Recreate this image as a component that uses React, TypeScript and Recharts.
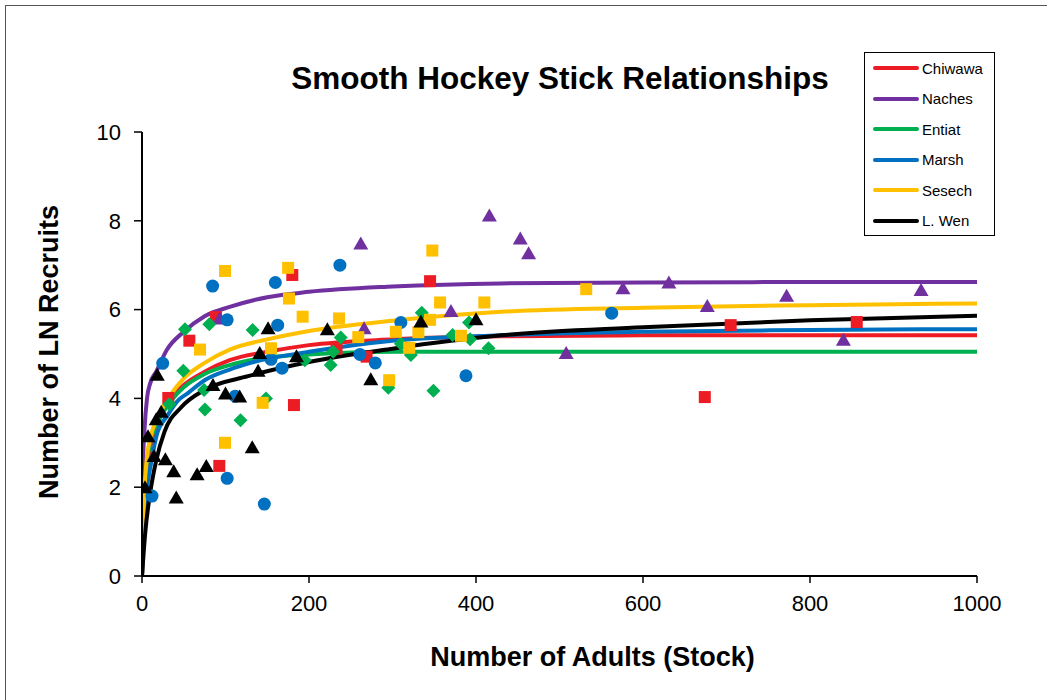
import React from 'react';
import { ComposedChart, Line, Scatter, XAxis, YAxis, Label } from 'recharts';

const FONT = '"Liberation Sans", Arial, Helvetica, sans-serif';

const seriesNames = ['Chiwawa', 'Naches', 'Entiat', 'Marsh', 'Sesech', 'L. Wen'];
const seriesColors = ['#ED1C24', '#7030A0', '#00B050', '#0070C0', '#FFC000', '#000000'];
const seriesShapes = ['square', 'triangle', 'diamond', 'circle', 'square', 'triangle'];

const xTicks = [0, 200, 400, 600, 800, 1000];
const yTicks = [0, 2, 4, 6, 8, 10];

// Fitted curves
const chiwawaCurve = [[0,0],[2,1.4],[5,2.3],[10,2.9],[20,3.5],[35,4.0],[50,4.3],[75,4.6],[105,4.86],[150,5.05],[200,5.2],[300,5.33],[430,5.4],[600,5.42],[800,5.42],[1000,5.42]];
const nachesCurve = [[0,0],[1,2.4],[3,3.3],[6,4.0],[10,4.35],[17,4.6],[30,5.1],[50,5.5],[75,5.85],[105,6.06],[150,6.28],[200,6.4],[300,6.52],[430,6.59],[600,6.61],[800,6.62],[1000,6.62]];
const entiatCurve = [[0,0],[2,1.5],[5,2.4],[10,3.0],[20,3.5],[35,3.95],[50,4.25],[75,4.55],[105,4.75],[150,4.92],[200,4.99],[300,5.05],[500,5.05],[800,5.05],[1000,5.05]];
const marshCurve = [[0,0],[2,1.0],[5,1.8],[11,2.55],[18,3.2],[30,3.6],[43,3.95],[55,4.12],[75,4.41],[105,4.65],[130,4.8],[200,5.05],[300,5.3],[430,5.42],[600,5.5],[800,5.54],[1000,5.56]];
const sesechCurve = [[0,0],[2,1.5],[5,2.5],[10,3.1],[20,3.6],[35,4.1],[50,4.45],[75,4.8],[105,5.1],[150,5.33],[200,5.52],[300,5.75],[430,5.95],[600,6.04],[800,6.1],[1000,6.14]];
const lwenCurve = [[0,0],[4,1.0],[10,1.9],[17,2.6],[27,3.25],[47,3.8],[75,4.19],[127,4.5],[200,4.82],[300,5.12],[430,5.42],[600,5.6],[800,5.76],[1000,5.86]];

// Observed points
const chiwawaPoints = [[31.5,4.01],[56.7,5.3],[88.6,5.83],[92.6,2.48],[180,6.78],[182,3.85],[233,5.12],[269,4.94],[345,6.64],[674,4.03],[705,5.65],[856,5.72]];
const nachesPoints = [[93,5.8],[262,7.49],[266,5.58],[370,5.97],[416,8.12],[453,7.6],[463,7.27],[508,5.02],[576,6.48],[631,6.61],[677,6.08],[772,6.31],[840,5.32],[933,6.44]];
const entiatPoints = [[32.7,3.87],[49.5,4.62],[51.5,5.56],[74.3,4.19],[75.4,3.75],[80.6,5.67],[118,3.51],[132.5,5.54],[148.5,4.0],[195,4.86],[226,4.75],[229,5.05],[238,5.37],[295,4.24],[310,5.23],[322,4.98],[335,5.93],[349,4.17],[372,5.43],[391.6,5.71],[393,5.33],[415,5.13]];
const marshPoints = [[12,1.8],[24.8,4.79],[84.6,6.53],[102,5.77],[102,2.2],[111.7,4.05],[146.5,1.62],[154.5,4.88],[159.7,6.61],[162.5,5.65],[167.7,4.68],[237,7.0],[261,4.99],[279.4,4.8],[310,5.71],[388,4.51],[562.5,5.92]];
const sesechPoints = [[69.5,5.1],[99.4,6.87],[99.4,3.0],[144.5,3.9],[154.5,5.13],[175,6.94],[176,6.25],[192.4,5.84],[236,5.8],[259,5.38],[296,4.41],[304,5.5],[320,5.14],[331,5.49],[345,5.77],[347.7,7.33],[357,6.16],[382,5.41],[410,6.16],[532,6.46]];
const lwenPoints = [[3.6,2.0],[7.2,3.15],[14.4,2.7],[17,3.53],[18.3,4.53],[23,3.7],[28,2.63],[38,2.36],[41,1.77],[66,2.29],[77,2.48],[85,4.3],[100,4.11],[117,4.04],[132,2.9],[139,4.62],[141,5.02],[151,5.58],[185,4.95],[222,5.56],[274,4.43],[334,5.73],[400,5.78]];

const curves = [chiwawaCurve, nachesCurve, entiatCurve, marshCurve, sesechCurve, lwenCurve];
const points = [chiwawaPoints, nachesPoints, entiatPoints, marshPoints, sesechPoints, lwenPoints];

const toData = (arr: number[][]) => arr.map(([x, y]) => ({ x, y }));

const makeShape = (kind: string, color: string) => (props: any) => {
  const { cx, cy } = props;
  if (cx == null || cy == null) return <g />;
  if (kind === 'square') return <rect x={cx - 6} y={cy - 6} width={12} height={12} fill={color} />;
  if (kind === 'circle') return <circle cx={cx} cy={cy} r={6.5} fill={color} />;
  if (kind === 'triangle')
    return <polygon points={`${cx},${cy - 7} ${cx + 7.5},${cy + 6} ${cx - 7.5},${cy + 6}`} fill={color} />;
  return <polygon points={`${cx},${cy - 7} ${cx + 7},${cy} ${cx},${cy + 7} ${cx - 7},${cy}`} fill={color} />;
};

const tickStyle = { fill: '#000', fontSize: 22, fontFamily: FONT };

export default function App() {
  return (
    <div style={{ position: 'fixed', left: 0, top: 0, width: 1047, height: 700, background: '#fff', overflow: 'hidden' }}>
      <div style={{ position: 'absolute', left: 5, top: 5, width: 1100, height: 750, border: '1px solid #555', boxSizing: 'border-box' }} />
      <ComposedChart width={1047} height={700} margin={{ top: 132, right: 70, bottom: 0, left: 0 }} style={{ position: 'absolute', left: 0, top: 0 }}>
        <XAxis
          type="number"
          dataKey="x"
          domain={[0, 1000]}
          ticks={xTicks}
          height={124}
          axisLine={{ stroke: '#000', strokeWidth: 2 }}
          tickLine={{ stroke: '#000', strokeWidth: 1.5 }}
          tickSize={7}
          tickMargin={12}
          tick={tickStyle}
          allowDataOverflow
        >
          <Label
            content={({ viewBox }: any) => (
              <text x={viewBox.x + viewBox.width / 2 + 33} y={666} textAnchor="middle" fontFamily={FONT} fontWeight="bold" fontSize={27} fill="#000">
                Number of Adults (Stock)
              </text>
            )}
          />
        </XAxis>
        <YAxis
          type="number"
          dataKey="y"
          domain={[0, 10]}
          ticks={yTicks}
          width={142}
          axisLine={{ stroke: '#000', strokeWidth: 2 }}
          tickLine={{ stroke: '#000', strokeWidth: 1.5 }}
          tickSize={8}
          tickMargin={13}
          tick={tickStyle}
          allowDataOverflow
        >
          <Label
            content={({ viewBox }: any) => {
              const cy = viewBox.y + viewBox.height / 2 - 2;
              return (
                <text x={58} y={cy} transform={`rotate(-90 58 ${cy})`} textAnchor="middle" fontFamily={FONT} fontWeight="bold" fontSize={27} fill="#000">
                  Number of LN Recruits
                </text>
              );
            }}
          />
        </YAxis>
        {curves.map((c, i) => (
          <Line
            key={'l' + i}
            data={toData(c)}
            dataKey="y"
            type="monotone"
            stroke={seriesColors[i]}
            strokeWidth={4}
            dot={false}
            activeDot={false}
            isAnimationActive={false}
            legendType="none"
          />
        ))}
        {points.map((p, i) => (
          <Scatter
            key={'s' + i}
            data={toData(p)}
            dataKey="y"
            fill={seriesColors[i]}
            shape={makeShape(seriesShapes[i], seriesColors[i])}
            isAnimationActive={false}
          />
        ))}
      </ComposedChart>
      <div style={{ position: 'absolute', left: 0, width: 1120, top: 60, lineHeight: '36px', textAlign: 'center', fontFamily: FONT, fontWeight: 'bold', fontSize: 31.5, color: '#000' }}>
        Smooth Hockey Stick Relationships
      </div>
      <div style={{ position: 'absolute', left: 864, top: 52, width: 131, height: 184, border: '1.5px solid #000', boxSizing: 'border-box', background: '#fff' }}>
        {seriesNames.map((n, i) => (
          <div key={n} style={{ position: 'absolute', left: 0, top: 15 + i * 30.5 - 10, height: 20, display: 'flex', alignItems: 'center' }}>
            <div style={{ marginLeft: 8, width: 46, height: 4, borderRadius: 2, background: seriesColors[i] }} />
            <span style={{ marginLeft: 3, fontFamily: FONT, fontSize: 15, color: '#000', whiteSpace: 'nowrap' }}>{n}</span>
          </div>
        ))}
      </div>
    </div>
  );
}
